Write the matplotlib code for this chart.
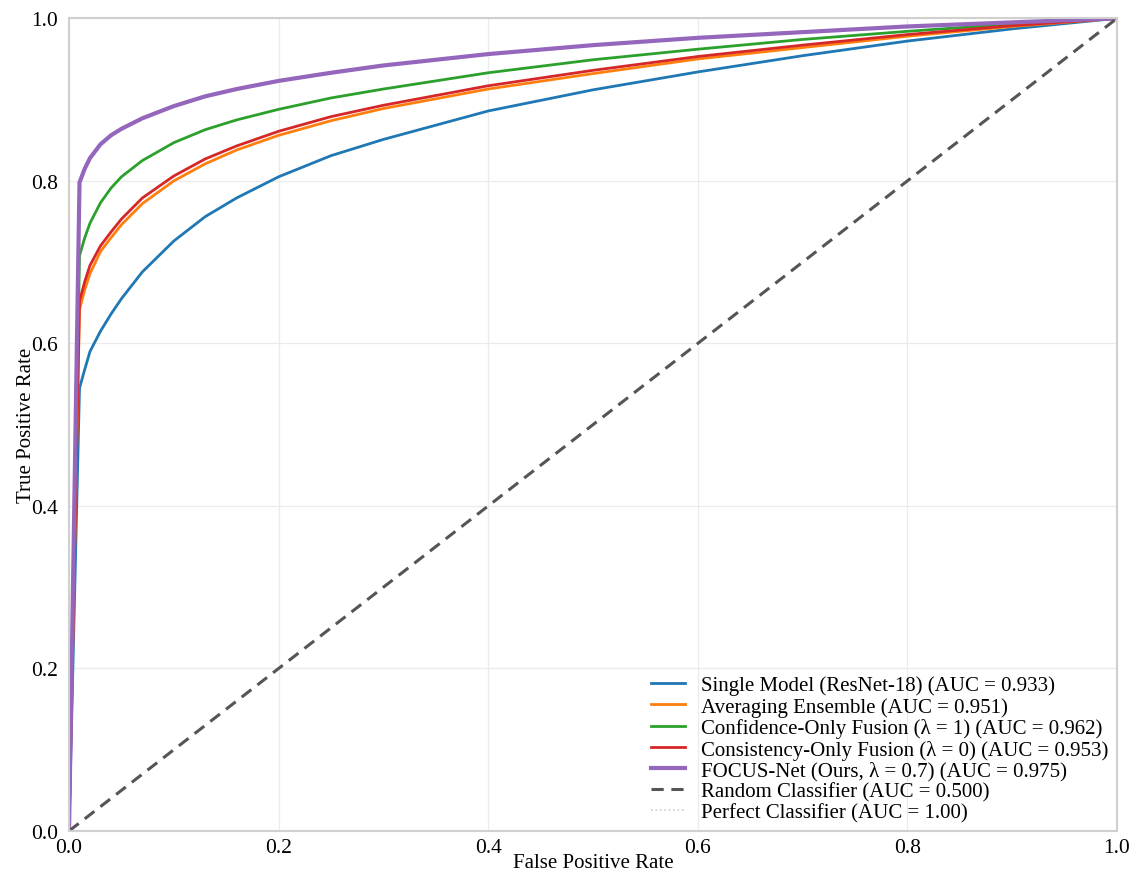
import numpy as np
import matplotlib
matplotlib.use("Agg")
import matplotlib.pyplot as plt

plt.rcParams['font.family'] = ['Liberation Serif', 'DejaVu Serif']

# false positive rate grid
fpr = [0.0, 0.01, 0.015, 0.02, 0.03, 0.04, 0.05, 0.07, 0.1, 0.13, 0.16, 0.2,
       0.25, 0.3, 0.4, 0.5, 0.6, 0.7, 0.8, 0.9, 1.0]

tpr_single = [0.0, 0.545, 0.568, 0.59, 0.615, 0.636, 0.655, 0.688, 0.726, 0.756, 0.779, 0.805,
              0.831, 0.851, 0.886, 0.912, 0.934, 0.954, 0.972, 0.987, 1.0]
tpr_avg = [0.0, 0.642, 0.666, 0.686, 0.713, 0.73, 0.746, 0.772, 0.8, 0.821, 0.838, 0.856,
           0.874, 0.889, 0.913, 0.932, 0.950, 0.964, 0.978, 0.990, 1.0]
tpr_conf = [0.0, 0.708, 0.73, 0.748, 0.773, 0.791, 0.805, 0.825, 0.847, 0.863, 0.875, 0.888,
            0.902, 0.913, 0.933, 0.949, 0.962, 0.974, 0.984, 0.993, 1.0]
tpr_cons = [0.0, 0.652, 0.676, 0.696, 0.72, 0.737, 0.753, 0.779, 0.806, 0.827, 0.843, 0.861,
            0.879, 0.893, 0.917, 0.936, 0.953, 0.967, 0.980, 0.991, 1.0]
tpr_focus = [0.0, 0.798, 0.815, 0.828, 0.845, 0.856, 0.864, 0.877, 0.892, 0.904, 0.913, 0.923,
             0.933, 0.942, 0.956, 0.967, 0.976, 0.983, 0.990, 0.995, 1.0]

labels = ['Single Model (ResNet-18) (AUC = 0.933)',
          'Averaging Ensemble (AUC = 0.951)',
          'Confidence-Only Fusion (\u03bb = 1) (AUC = 0.962)',
          'Consistency-Only Fusion (\u03bb = 0) (AUC = 0.953)',
          'FOCUS-Net (Ours, \u03bb = 0.7) (AUC = 0.975)',
          'Random Classifier (AUC = 0.500)',
          'Perfect Classifier (AUC = 1.00)']
colors = ['#1f77b4', '#ff7f0e', '#2ca02c', '#d62728', '#9467bd']
widths = [2, 2, 2, 2, 3]

fig = plt.figure(figsize=(11.41, 8.78), dpi=100)
ax = fig.add_axes([0.0605, 0.0524, 0.9185, 0.9256])

curves = [tpr_single, tpr_avg, tpr_conf, tpr_cons, tpr_focus]
for tpr, c, lw, lab in zip(curves, colors, widths, labels[:5]):
    ax.plot(fpr, tpr, color=c, lw=lw, label=lab, solid_joinstyle='round')

ax.plot([0, 1], [0, 1], '--', color='#555555', lw=2.2, dashes=(4, 2.5), label=labels[5])
ax.plot([0, 0, 1], [0, 1, 1], ':', color='#cccccc', lw=1.2, label=labels[6])

ax.set_xlim(0, 1)
ax.set_ylim(0, 1)
ax.set_xticks(np.arange(0, 1.01, 0.2))
ax.set_yticks(np.arange(0, 1.01, 0.2))
ax.xaxis.set_major_formatter(matplotlib.ticker.FormatStrFormatter('%.1f'))
ax.yaxis.set_major_formatter(matplotlib.ticker.FormatStrFormatter('%.1f'))
ax.tick_params(length=0, labelsize=15.5)
ax.tick_params(axis='x', pad=5)
ax.tick_params(axis='y', pad=8)
ax.grid(True, color='#ebebeb', lw=0.9)
ax.set_axisbelow(True)
for s in ax.spines.values():
    s.set_color('#d0d0d0')
    s.set_linewidth(1.5)

ax.set_xlabel('False Positive Rate', fontsize=15, labelpad=-3)
ax.set_ylabel('True Positive Rate', fontsize=15, labelpad=-4)

ax.legend(loc='lower right', frameon=False, fontsize=15, labelspacing=0.07,
          handlelength=1.6, handletextpad=0.8, borderpad=0.1, borderaxespad=0.3)

fig.savefig('out.png', dpi=100)
